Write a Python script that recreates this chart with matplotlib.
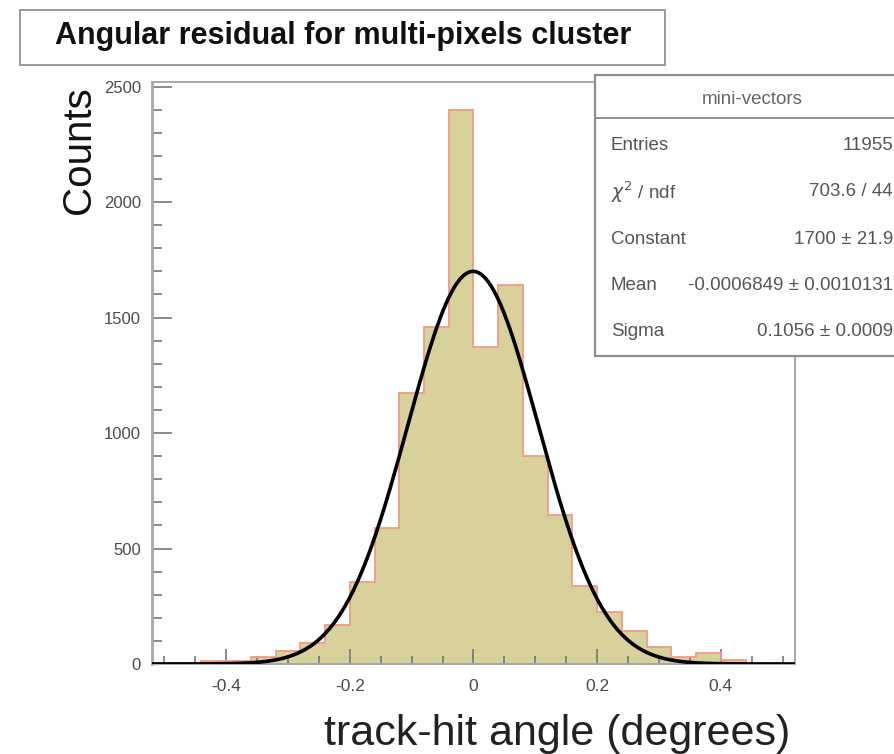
import numpy as np
import matplotlib
matplotlib.use("Agg")
from matplotlib import pyplot as plt
from matplotlib.patches import Rectangle
from matplotlib.lines import Line2D

plt.rcParams['font.family'] = ['Liberation Sans', 'DejaVu Sans']

# histogram: bin edges from -0.52 to 0.52, width 0.04
bin_edges = np.round(np.arange(-0.52, 0.5201, 0.04), 2)
counts = [5, 5, 13, 13, 32, 58, 90, 169, 354, 590, 1175, 1460, 2400,
          1373, 1640, 900, 645, 338, 226, 144, 75, 32, 46, 17, 5, 3]

# gaussian fit results (from the stats box)
fit_const = 1700.0
fit_mean = -0.0006849
fit_sigma = 0.1058

stat_labels = ['Entries', r'$\chi^2$ / ndf', 'Constant', 'Mean', 'Sigma']
stat_values = ['11955', '703.6 / 44', '1700 ± 21.9',
               '-0.0006849 ± 0.0010131', '0.1056 ± 0.0009']

W, H = 895, 754
fig = plt.figure(figsize=(W / 100, H / 100), dpi=100)
ax = fig.add_axes([152 / W, (H - 664) / H, 643 / W, 582 / H])

ax.stairs(counts, bin_edges, fill=True, color='#d8d19b', zorder=1)
ax.stairs(counts, bin_edges, color='#f19a86', lw=1.3, zorder=2)

xs = np.linspace(bin_edges[0], bin_edges[-1], 500)
ax.plot(xs, fit_const * np.exp(-0.5 * ((xs - fit_mean) / fit_sigma) ** 2),
        color='black', lw=2.6, zorder=3)

ax.set_xlim(-0.52, 0.52)
ax.set_ylim(0, 2520)
ax.set_xticks([-0.4, -0.2, 0, 0.2, 0.4])
ax.set_xticklabels(['-0.4', '-0.2', '0', '0.2', '0.4'])
ax.set_xticks(np.arange(-0.5, 0.51, 0.05), minor=True)
ax.set_yticks([0, 500, 1000, 1500, 2000, 2500])
ax.set_yticks(np.arange(0, 2501, 100), minor=True)

for s in ax.spines.values():
    s.set_color('#a8a8a8')
    s.set_linewidth(1.4)
ax.spines['left'].set_linewidth(2)

ax.tick_params(axis='y', which='major', direction='in', length=14.5, width=1.4,
               color='#8a8a8a', labelsize=12, labelcolor='#4a4a4a', pad=8)
ax.tick_params(axis='y', which='minor', direction='in', length=7, width=1.4,
               color='#8a8a8a')
ax.tick_params(axis='x', which='major', direction='in', length=11, width=1.2,
               color='#777777', labelsize=12.5, labelcolor='#4a4a4a', pad=11)
ax.tick_params(axis='x', which='minor', direction='in', length=5.5, width=1.2,
               color='#777777')

# axis titles
fig.text(790 / W, (H - 745) / H, 'track-hit angle (degrees)', fontsize=31,
         ha='right', va='baseline', color='#222222')
fig.text(90 / W, (H - 150) / H, 'Counts', fontsize=29, rotation=90,
         rotation_mode='anchor', ha='center', va='baseline', color='#111111')

# title box
fig.add_artist(Rectangle((20 / W, (H - 65) / H), 645 / W, 55 / H,
                         transform=fig.transFigure, facecolor='white',
                         edgecolor='#999999', lw=1.4))
fig.text(343 / W, (H - 36) / H, 'Angular residual for multi-pixels cluster',
         fontsize=22, fontweight='bold', ha='center', va='center',
         color='#111111')

# stats box
box_l, box_t, box_r, box_b = 595, 75, 910, 356
fig.add_artist(Rectangle((box_l / W, (H - box_b) / H), (box_r - box_l) / W,
                         (box_b - box_t) / H, transform=fig.transFigure,
                         facecolor='white', edgecolor='#8c8c8c', lw=1.6,
                         zorder=5, clip_on=False))
fig.add_artist(Line2D([box_l / W, box_r / W], [(H - 118) / H] * 2,
                      transform=fig.transFigure, color='#8c8c8c', lw=1.4,
                      zorder=6))
fig.text(752 / W, (H - 100) / H, 'mini-vectors', fontsize=13.5, ha='center',
         va='center', color='#666666', zorder=7)
row_y = [145, 192, 240, 285, 331]
for lab, val, yy in zip(stat_labels, stat_values, row_y):
    fig.text(611 / W, (H - yy) / H, lab, fontsize=13.5, ha='left', va='center',
             color='#555555', zorder=7)
    fig.text(893 / W, (H - yy) / H, val, fontsize=13.5, ha='right',
             va='center', color='#555555', zorder=7)

fig.savefig('out.png', dpi=100)
